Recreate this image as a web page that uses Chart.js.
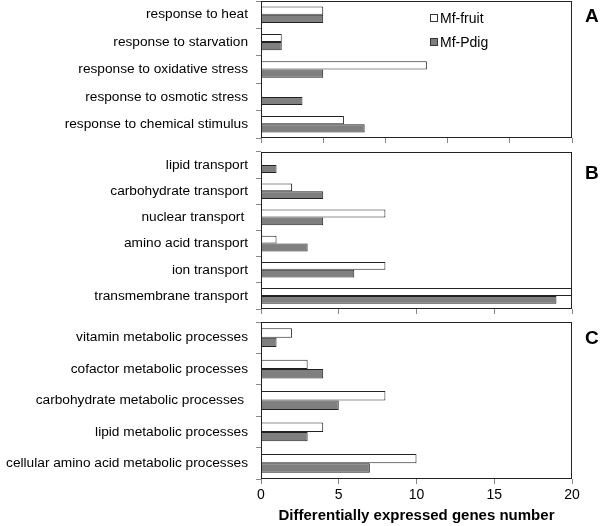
<!DOCTYPE html>
<html>
<head>
<meta charset="utf-8">
<script src="https://cdn.jsdelivr.net/npm/chart.js@4"></script>
<style>
  body { margin: 0; background: #fff; }
  #wrap { position: relative; width: 600px; height: 526px; font-family: "Liberation Sans", Arial, sans-serif; }
  canvas { position: absolute; left: 0; }
  .letter { position: absolute; left: 585px; font-weight: bold; font-size: 19px; color: #000; }
  .leg { position: absolute; left: 430px; font-size: 14px; color: #000; line-height: 16px; }
  .leg span { display: inline-block; width: 6px; height: 6px; border: 1px solid #333; margin-right: 2px; vertical-align: 1px; }
</style>
</head>
<body>
<div id="wrap">
  <canvas id="chartA" width="600" height="150" style="top:0px"></canvas>
  <canvas id="chartB" width="600" height="165" style="top:150px"></canvas>
  <canvas id="chartC" width="600" height="211" style="top:315px"></canvas>
  <div class="leg" style="top:10px"><span style="background:#fff"></span>Mf-fruit</div>
  <div class="leg" style="top:34px"><span style="background:#7f7f7f"></span>Mf-Pdig</div>
  <div class="letter" style="top:5px">A</div>
  <div class="letter" style="top:162px">B</div>
  <div class="letter" style="top:327px">C</div>
</div>
<script>
const seriesNames = ["Mf-fruit", "Mf-Pdig"];

const catsA = ["response to heat", "response to starvation", "response to oxidative stress", "response to osmotic stress", "response to chemical stimulus"];
const fruitA = [3, 1, 8, 0, 4];
const pdigA = [3, 1, 3, 2, 5];

const catsB = ["lipid transport", "carbohydrate transport", "nuclear transport ", "amino acid transport", "ion transport", "transmembrane transport"];
const fruitB = [0, 2, 8, 1, 8, 20];
const pdigB = [1, 4, 4, 3, 6, 19];

const catsC = ["vitamin metabolic processes", "cofactor metabolic processes", "carbohydrate metabolic processes ", "lipid metabolic processes", "cellular amino acid metabolic processes"];
const fruitC = [2, 3, 8, 4, 10];
const pdigC = [1, 4, 5, 3, 7];

const axisTitle = "Differentially expressed genes number";

// frame round each panel's plot area
const boxPlugin = {
  id: "box",
  afterDatasetsDraw(chart) {
    const a = chart.chartArea;
    const c = chart.ctx;
    c.save();
    c.strokeStyle = "#222";
    c.lineWidth = 1;
    c.strokeRect(Math.round(a.left) + 0.5, Math.round(a.top) + 0.5, Math.round(a.right - a.left) - 1, Math.round(a.bottom - a.top) - 1);
    c.restore();
  }
};

function makePanel(id, cats, fruit, pdig, xMax, step, padTop, xHeight, showX) {
  new Chart(document.getElementById(id), {
    type: "bar",
    data: {
      labels: cats,
      datasets: [
        { label: seriesNames[0], data: fruit, backgroundColor: "#ffffff", borderColor: "#222", borderWidth: 1 },
        { label: seriesNames[1], data: pdig, backgroundColor: "#7f7f7f", borderColor: "#222", borderWidth: 1 }
      ]
    },
    options: {
      indexAxis: "y",
      responsive: false,
      animation: false,
      categoryPercentage: 0.6,
      barPercentage: 1,
      layout: { padding: { top: padTop, right: 28, left: 0, bottom: 0 } },
      plugins: { legend: { display: false }, tooltip: { enabled: false } },
      scales: {
        y: {
          grid: { drawOnChartArea: false, tickLength: 5, color: "#888", offset: true },
          border: { display: false },
          ticks: { color: "#000", padding: 8, font: { family: "Liberation Sans", size: 13.7 } },
          afterFit(scale) {
            scale.width = 261;
            scale.paddingTop = 0;
            scale.paddingBottom = 0;
          }
        },
        x: {
          min: 0,
          max: xMax,
          grid: { drawOnChartArea: false, tickLength: 5, color: "#888" },
          border: { display: false },
          ticks: { display: showX, stepSize: step, color: "#000", padding: 3, maxRotation: 0, font: { family: "Liberation Sans", size: 14 } },
          title: { display: showX, text: axisTitle, color: "#000", padding: { top: 0, bottom: 1 }, font: { family: "Liberation Sans", size: 15, weight: "bold" } },
          afterFit(scale) { scale.height = xHeight; }
        }
      }
    },
    plugins: [boxPlugin]
  });
}

makePanel("chartA", catsA, fruitA, pdigA, 15, 3, 1, 12, false);
makePanel("chartB", catsB, fruitB, pdigB, 20, 5, 2, 6, false);
makePanel("chartC", catsC, fruitC, pdigC, 20, 5, 7, 47, true);
</script>
</body>
</html>
